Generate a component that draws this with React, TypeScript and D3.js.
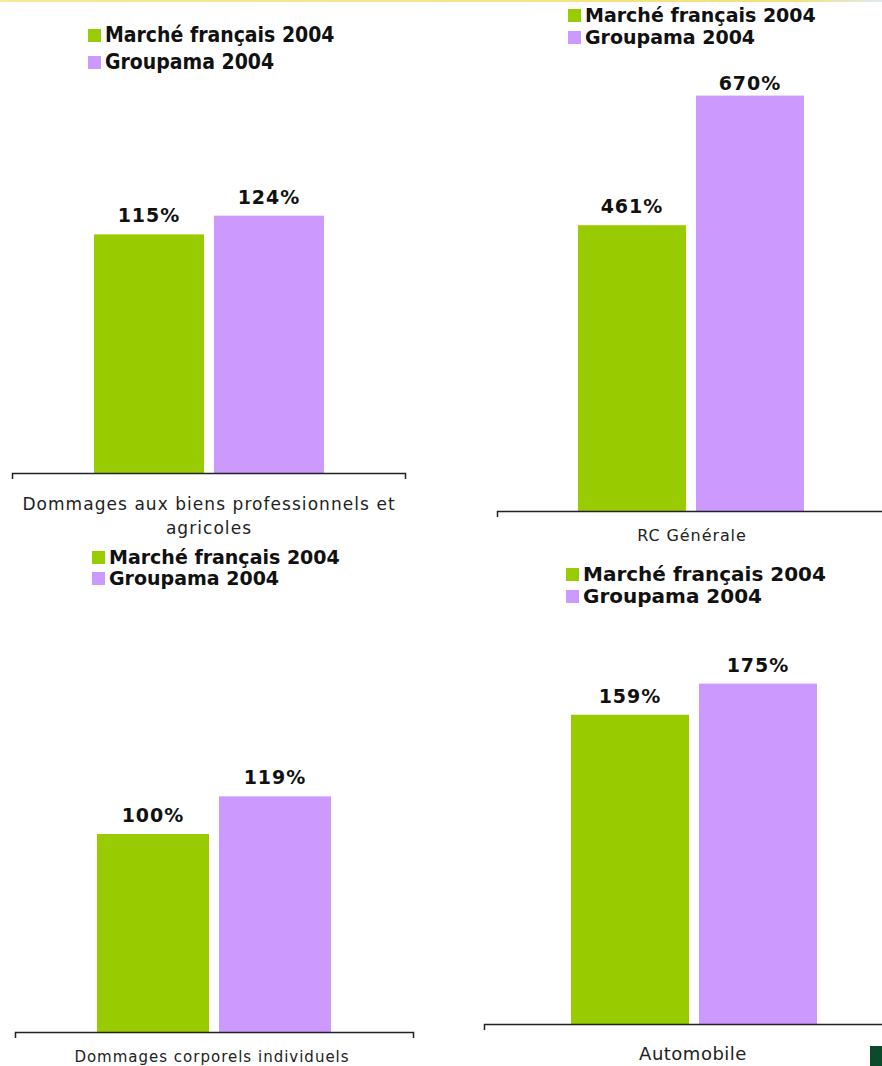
import { useEffect, useRef } from 'react';
import * as d3 from 'd3';

// series
const seriesNames = ['Marché français 2004', 'Groupama 2004'];
const seriesColors = ['#99CC00', '#CC99FF'];

// one category per panel
const categories = [
  ['Dommages aux biens professionnels et', 'agricoles'],
  ['RC Générale'],
  ['Dommages corporels individuels'],
  ['Automobile'],
];

// values in %, [Marché français, Groupama]
const valuesBiens = [115, 124];
const valuesRC = [461, 670];
const valuesCorporels = [100, 119];
const valuesAuto = [159, 175];

interface Panel {
  values: number[];
  lines: string[];
  domainMax: number;
  baseline: number;
  top: number;
  barRange: [number, number];
  pad: number;
  axisRange: [number, number];
  labelTopClamp: number;
  legend: { x: number; y: number; gap: number; font: string; size: number; stretch?: string };
  cat: { x: number; y: number; size: number; font: string; spacing: number; lineH: number };
}

const sans = "'DejaVu Sans', Verdana, sans-serif";

const panels: Panel[] = [
  {
    values: valuesBiens,
    lines: categories[0],
    domainMax: 200,
    baseline: 473,
    top: 58,
    barRange: [94, 324],
    pad: 0.083,
    axisRange: [12, 405],
    labelTopClamp: 0,
    legend: { x: 88, y: 29, gap: 27, font: "'DejaVu Sans Condensed', 'DejaVu Sans'", size: 21, stretch: 'condensed' },
    cat: { x: 209, y: 510, size: 17, font: sans, spacing: 1.05, lineH: 24 },
  },
  {
    values: valuesRC,
    lines: categories[1],
    domainMax: 700,
    baseline: 511,
    top: 77,
    barRange: [578, 804],
    pad: 0.085,
    axisRange: [497, 892],
    labelTopClamp: 90,
    legend: { x: 568, y: 9, gap: 22, font: sans, size: 19 },
    cat: { x: 692, y: 541, size: 16, font: sans, spacing: 0.9, lineH: 16 },
  },
  {
    values: valuesCorporels,
    lines: categories[2],
    domainMax: 200,
    baseline: 1032,
    top: 636,
    barRange: [97, 331],
    pad: 0.082,
    axisRange: [15, 413],
    labelTopClamp: 0,
    legend: { x: 92, y: 551, gap: 21, font: sans, size: 19 },
    cat: { x: 212, y: 1062, size: 15, font: sans, spacing: 1.0, lineH: 16 },
  },
  {
    values: valuesAuto,
    lines: categories[3],
    domainMax: 200,
    baseline: 1024,
    top: 635,
    barRange: [571, 817],
    pad: 0.078,
    axisRange: [484, 892],
    labelTopClamp: 0,
    legend: { x: 566, y: 568, gap: 22, font: sans, size: 20 },
    cat: { x: 693, y: 1060, size: 18, font: sans, spacing: 0.5, lineH: 18 },
  },
];

function BarPanel({ p }: { p: Panel }) {
  const axisRef = useRef<SVGGElement>(null);

  const x = d3.scaleBand<string>().domain(seriesNames).range(p.barRange).paddingInner(p.pad).paddingOuter(0);
  const y = d3.scaleLinear().domain([0, p.domainMax]).range([p.baseline, p.top]);
  const catScale = d3.scaleBand<string>().domain([p.lines.join(' ')]).range(p.axisRange);

  useEffect(() => {
    if (!axisRef.current) return;
    const g = d3.select(axisRef.current);
    g.selectAll('*').remove();
    g.call(d3.axisBottom(catScale).tickSizeInner(0).tickSizeOuter(6).tickFormat(() => ''));
    g.select('.domain').attr('stroke', '#222').attr('stroke-width', 1.5);
    g.selectAll('.tick').remove();
  }, [p]);

  return (
    <g>
      {p.values.map((v, i) => (
        <rect
          key={i}
          x={x(seriesNames[i])}
          y={y(v)}
          width={x.bandwidth()}
          height={y(0) - y(v)}
          fill={seriesColors[i]}
        />
      ))}
      {p.values.map((v, i) => (
        <text
          key={'l' + i}
          x={(x(seriesNames[i]) || 0) + x.bandwidth() / 2}
          y={Math.max(y(v) - 12, p.labelTopClamp)}
          textAnchor="middle"
          fontFamily={sans}
          fontWeight="bold"
          fontSize={19}
          letterSpacing={1}
          fill="#111"
        >
          {v}%
        </text>
      ))}
      <g ref={axisRef} transform={`translate(0,${p.baseline})`} />
      {p.lines.map((line, i) => (
        <text
          key={'c' + i}
          x={p.cat.x}
          y={p.cat.y + i * p.cat.lineH}
          textAnchor="middle"
          fontFamily={p.cat.font}
          fontSize={p.cat.size}
          letterSpacing={p.cat.spacing}
          fill="#222"
        >
          {line}
        </text>
      ))}
      {seriesNames.map((name, i) => (
        <g key={'g' + i} transform={`translate(${p.legend.x},${p.legend.y + i * p.legend.gap})`}>
          <rect width={13} height={13} fill={seriesColors[i]} />
          <text
            x={17}
            y={13}
            fontFamily={p.legend.font}
            fontWeight="bold"
            fontSize={p.legend.size}
            style={{ fontStretch: p.legend.stretch || 'normal' }}
            fill="#111"
          >
            {name}
          </text>
        </g>
      ))}
    </g>
  );
}

export default function App() {
  return (
    <svg
      width={882}
      height={1066}
      style={{ position: 'fixed', left: 0, top: 0, background: '#fff' }}
    >
      <defs>
        <linearGradient id="topLine" x1="0" x2="1">
          <stop offset="0" stopColor="#f6ea9a" />
          <stop offset="0.9" stopColor="#f2e27a" />
          <stop offset="1" stopColor="#dfeaf5" />
        </linearGradient>
      </defs>
      <rect x={0} y={0} width={882} height={2} fill="url(#topLine)" />
      {panels.map((p, i) => (
        <BarPanel key={i} p={p} />
      ))}
      <rect x={870} y={1046} width={12} height={20} fill="#0b4a2a" />
    </svg>
  );
}
